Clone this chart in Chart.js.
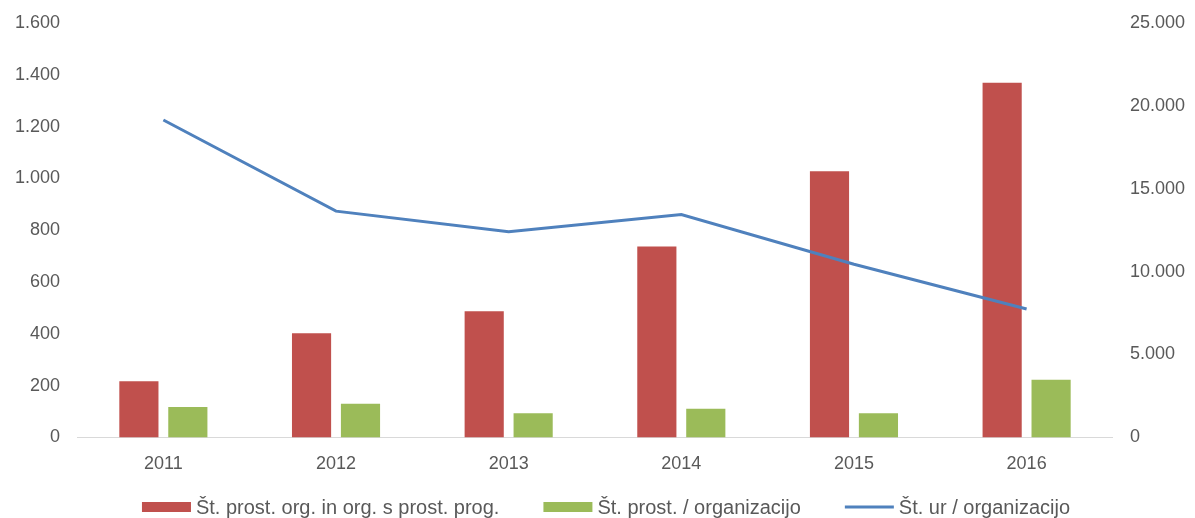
<!DOCTYPE html>
<html>
<head>
<meta charset="utf-8">
<script src="https://cdn.jsdelivr.net/npm/chart.js@4.4.1/dist/chart.umd.min.js"></script>
<style>
  html, body { margin: 0; padding: 0; background: #ffffff; }
  #wrap { width: 1195px; height: 518px; }
</style>
</head>
<body>
<div id="wrap"><canvas id="c" width="1195" height="518"></canvas></div>
<script>
const categories = ['2011', '2012', '2013', '2014', '2015', '2016'];
const orgsLabel = 'Št. prost. org. in org. s prost. prog.';
const volLabel = 'Št. prost. / organizacijo';
const hoursLabel = 'Št. ur / organizacijo';
const orgsValues = [217, 402, 487, 737, 1028, 1369];
const volPerOrg = [117, 130, 93, 111, 93, 223];
const hoursPerOrg = [19150, 13650, 12400, 13450, 10450, 7750];
const leftTicks = [0, 200, 400, 600, 800, 1000, 1200, 1400, 1600];
const rightTicks = [0, 5000, 10000, 15000, 20000, 25000];

const fmt = v => String(v).replace(/\B(?=(\d{3})+(?!\d))/g, '.');
const FONT = "'Liberation Sans', Arial, sans-serif";
const GREY = '#595959';

// Legend drawn below the plot, items taken from the datasets
const bottomLegend = {
  id: 'bottomLegend',
  afterDraw(chart) {
    const ctx = chart.ctx;
    const boxW = 49, boxH = 10, gapText = 5, gapItem = 44, cy = 507;
    ctx.save();
    ctx.font = "20px " + FONT;
    ctx.textBaseline = 'middle';
    ctx.textAlign = 'left';
    const items = chart.data.datasets.map(ds => ({
      text: ds.label, color: ds.type === 'line' ? ds.borderColor : ds.backgroundColor,
      line: ds.type === 'line', w: ctx.measureText(ds.label).width
    }));
    let total = 0;
    items.forEach((it, i) => { total += boxW + gapText + it.w + (i < items.length - 1 ? gapItem : 0); });
    let x = 606 - total / 2;
    items.forEach(it => {
      if (it.line) {
        ctx.strokeStyle = it.color; ctx.lineWidth = 3;
        ctx.beginPath(); ctx.moveTo(x, cy); ctx.lineTo(x + boxW, cy); ctx.stroke();
      } else {
        ctx.fillStyle = it.color;
        ctx.fillRect(x, cy - boxH / 2, boxW, boxH);
      }
      x += boxW + gapText;
      ctx.fillStyle = GREY;
      ctx.fillText(it.text, x, cy + 1);
      x += it.w + gapItem;
    });
    ctx.restore();
  }
};

const trimPad = s => { s.paddingTop = 0; s.paddingBottom = 0; };

new Chart(document.getElementById('c'), {
  data: {
    labels: categories,
    datasets: [
      {
        type: 'bar', label: orgsLabel, data: orgsValues,
        backgroundColor: '#C0504D', borderWidth: 0, yAxisID: 'y', order: 1,
        categoryPercentage: 0.567, barPercentage: 0.8
      },
      {
        type: 'bar', label: volLabel, data: volPerOrg,
        backgroundColor: '#9BBB59', borderWidth: 0, yAxisID: 'y', order: 1,
        categoryPercentage: 0.567, barPercentage: 0.8
      },
      {
        type: 'line', label: hoursLabel, data: hoursPerOrg,
        borderColor: '#4F81BD', backgroundColor: '#4F81BD', borderWidth: 3,
        pointRadius: 0, pointHoverRadius: 0,
        tension: 0, fill: false, yAxisID: 'y1', order: 0
      }
    ]
  },
  plugins: [bottomLegend],
  options: {
    responsive: false,
    animation: false,
    layout: { padding: { left: -2, right: -7, top: 23, bottom: 27 } },
    plugins: {
      tooltip: { enabled: false },
      legend: { display: false }
    },
    scales: {
      x: {
        grid: { display: true, color: 'transparent', drawTicks: false },
        border: { display: true, color: '#d9d9d9', width: 1 },
        ticks: { font: { family: FONT, size: 18 }, color: GREY, padding: 16 }
      },
      y: {
        position: 'left', min: 0, max: 1600,
        afterBuildTicks: s => { s.ticks = leftTicks.map(v => ({ value: v })); },
        afterFit: trimPad,
        grid: { display: false, drawTicks: false },
        border: { display: false },
        ticks: { font: { family: FONT, size: 18 }, color: GREY, padding: 17, callback: v => fmt(v) }
      },
      y1: {
        position: 'right', min: 0, max: 25000,
        afterBuildTicks: s => { s.ticks = rightTicks.map(v => ({ value: v })); },
        afterFit: trimPad,
        grid: { display: false, drawTicks: false },
        border: { display: false },
        ticks: { font: { family: FONT, size: 18 }, color: GREY, padding: 17, callback: v => fmt(v) }
      }
    }
  }
});
</script>
</body>
</html>
